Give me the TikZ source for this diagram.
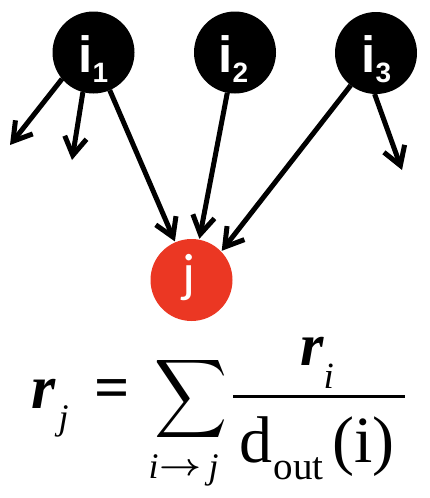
\documentclass[tikz,border=0pt]{standalone}
\usepackage{fontspec}
\setmainfont{Liberation Serif}
\newfontfamily\lsans{Liberation Sans}
\newfontfamily\carl{Carlito}
\usetikzlibrary{arrows.meta,calc}
\definecolor{jred}{RGB}{235,55,35}
\begin{document}
\begin{tikzpicture}[x=1pt,y=-1pt,line width=5pt,
  inode/.style={circle,fill=black,minimum size=82pt,inner sep=0pt,outer sep=0pt},
  jnode/.style={circle,fill=jred,minimum size=82pt,inner sep=0pt,outer sep=1pt,
    text=white,font=\carl\fontsize{54}{54}\selectfont},
  ilab/.style={text=white,inner sep=0pt,anchor=base west,font=\lsans\bfseries\fontsize{51}{51}\selectfont},
  link/.style={-{Straight Barb[length=18pt,width=22pt]}},
  fm/.style={inner sep=0pt,anchor=base west}]
\useasboundingbox (0,0) rectangle (430,498);
% nodes
\node[inode] (i1) at (93.5,52.5) {};
\node[inode] (i2) at (235,52.5) {};
\node[inode] (i3) at (376,53) {};
\node[jnode] (j) at (191.5,280) {\raisebox{-11pt}[0pt][0pt]{\makebox[0pt]{j\kern6pt}}};
\node[ilab] (l1) at ($(i1)+(-17.5,19.5)$) {i\raisebox{-10pt}{\fontsize{28}{28}\selectfont 1}};
\node[ilab] (l2) at ($(i2)+(-19,19.5)$) {i\raisebox{-10pt}{\fontsize{28}{28}\selectfont 2}};
\node[ilab] (l3) at ($(i3)+(-17,19.5)$) {i\raisebox{-10pt}{\fontsize{28}{28}\selectfont 3}};
% free ends
\coordinate (a1) at (10,145);
\coordinate (a2) at (72,160);
\coordinate (a3) at (402,170);
% connectors
\draw[link] (i1.-140) -- (a1);
\draw[link] (i1.-105) -- (a2);
\draw[link] (i1) -- (j);
\draw[link] (i2) -- (j);
\draw[link] (i3.-128) -- (j.44);
\draw[link] (i3.-92) -- (a3);
% formula
\node[fm,font=\bfseries\itshape\fontsize{62}{62}\selectfont] (r) at (29,408) {r};
\node[fm,font=\itshape\fontsize{36}{36}\selectfont] (rj) at (56,429) {j};
\node[fm,font=\bfseries\fontsize{62}{62}\selectfont] (eq) at (92,408) {=};
\node[inner sep=0pt,anchor=north west] (sum) at (152,352) {\resizebox*{73pt}{88pt}{$\displaystyle\sum$}};
\node[fm,font=\itshape\fontsize{36}{36}\selectfont] (bi) at (146,478) {i};
\node[inner sep=0pt] (barrow) at (181,469) {\resizebox{42pt}{12pt}{\boldmath$\rightarrow$}};
\node[fm,font=\itshape\fontsize{36}{36}\selectfont] (bj) at (206,478) {j};
\draw[line width=3pt] (233,396.5) -- (405,396.5);
\node[fm,font=\bfseries\itshape\fontsize{60}{60}\selectfont] (num) at (298,365) {r};
\node[fm,font=\itshape\fontsize{37}{37}\selectfont] (numi) at (321,388) {i};
\node[fm,font=\fontsize{66}{66}\selectfont] (d) at (237,462) {d};
\node[fm,font=\fontsize{39}{39}\selectfont] (out) at (271,479) {out};
\node[fm,font=\fontsize{66}{66}\selectfont] (par) at (330,462) {(i)};
\end{tikzpicture}
\end{document}
